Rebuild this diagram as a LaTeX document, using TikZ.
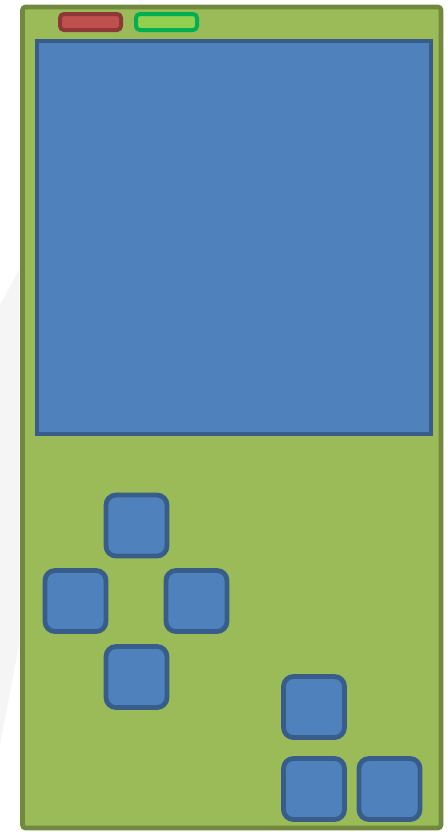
\documentclass[tikz,border=0pt]{standalone}
\usepackage{tikz}
\usetikzlibrary{calc}

\definecolor{bodyfill}{HTML}{9BBB59}
\definecolor{bodyline}{HTML}{71893F}
\definecolor{keyfill}{HTML}{4F81BD}
\definecolor{keyline}{HTML}{385D8A}
\definecolor{redfill}{HTML}{C0504D}
\definecolor{redline}{HTML}{8C3836}
\definecolor{greenfill}{HTML}{92D050}
\definecolor{greenline}{HTML}{00B050}

\begin{document}
\begin{tikzpicture}[x=0.5pt,y=-0.5pt,
  casing/.style={fill=bodyfill,draw=bodyline,line width=2.3pt,rounded corners=1.5pt},
  screen/.style={fill=keyfill,draw=keyline,line width=2pt},
  key/.style={fill=keyfill,draw=keyline,line width=2.4pt,rounded corners=5pt},
  led/.style={line width=2pt,rounded corners=2pt}]
  \useasboundingbox (0,0) rectangle (447,832);
  % faint reflection at the left
  \fill[black!4] (0,305) -- (19,270) -- (19,645) -- (0,745) -- cycle;
  % phone body
  \draw[casing] (22.5,7) rectangle (441,828);
  % status lights
  \draw[led,fill=redfill,draw=redline] (60,14) rectangle (121,30);
  \draw[led,fill=greenfill,draw=greenline] (136,14) rectangle (197,30);
  % display
  \draw[screen] (37,41) rectangle (431,434);
  % keypad
  \foreach \kx/\ky in {136.5/525.5, 75.5/601, 196.5/601, 136.5/677,
                       314/707, 314/789, 389.5/789}
    \draw[key] (\kx-30.5,\ky-30.5) rectangle (\kx+30.5,\ky+30.5);
\end{tikzpicture}
\end{document}
